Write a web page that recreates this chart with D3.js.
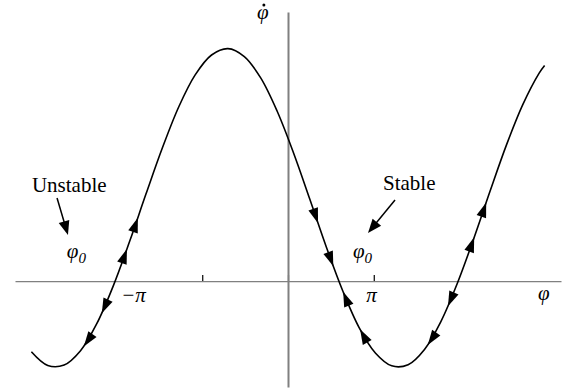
<!DOCTYPE html>
<html lang="en">
<head>
    <meta charset="UTF-8">
    <title>Phase portrait</title>
    <script src="https://cdn.jsdelivr.net/npm/d3@7"></script>
    <style>
        body { margin: 0; background: #fff; }
        text { font-family: "Liberation Serif", "Times New Roman", serif; fill: #000; }
        .math { font-style: italic; }
    </style>
</head>
<body>
<script>
    var w = 570;
    var h = 391;

    // curve samples (phi in rad, phi-dot in arbitrary units)
    var phiValues = [-4.7, -4.4, -4.1, -3.8, -3.5, -3.2, -2.9, -2.6, -2.3, -2.0, -1.7,
                     -1.4, -1.1, -0.8, -0.5, -0.2, 0.1, 0.4, 0.7, 1.0, 1.3, 1.6, 1.9,
                     2.2, 2.5, 2.8, 3.1, 3.4, 3.7, 4.0, 4.3, 4.6, 4.7];
    var phiDotValues = [-0.444, -0.530, -0.527, -0.437, -0.266, -0.030, 0.250, 0.548, 0.837,
                        1.095, 1.295, 1.420, 1.460, 1.410, 1.276, 1.068, 0.806, 0.514, 0.216,
                        -0.059, -0.290, -0.451, -0.532, -0.525, -0.429, -0.254, -0.015, 0.265,
                        0.564, 0.854, 1.108, 1.306, 1.354];

    // flow arrows on the curve: tip position and direction (+1 = towards larger phi)
    var arrowPhi = [-2.75, -2.95, -3.41, -3.74, 0.55, 0.83, 1.01, 1.32, 3.63, 3.41, 2.93, 2.56];
    var arrowDir = [1, 1, -1, -1, 1, 1, -1, -1, 1, 1, -1, -1];

    var tickValues = [-Math.PI / 2, 0, Math.PI / 2];
    var tickLabelText = ["\u2212\u03c0", "\u03c0"];
    var tickLabelPhi = [-2.83, 1.53];

    var noteText = ["Unstable", "Stable"];
    var notePhi = [-4.69, 1.74];
    var noteVal = [0.56, 0.572];
    // pointer arrows: from -> to
    var pointerFrom = [[-4.23, 0.522], [1.96, 0.509]];
    var pointerTo = [[-4.03, 0.29], [1.465, 0.302]];
    var phi0Phi = [-4.05, 1.19];
    var phi0Val = [0.145, 0.145];

    var x = d3.scaleLinear().domain([-5, 5]).range([15, 561]);
    var y = d3.scaleLinear().domain([-0.665, 1.69]).range([387, 12]);

    var svg = d3.select("body").append("svg")
        .attr("width", w)
        .attr("height", h);

    // x axis, ticks pointing up
    var xAxis = svg.append("g")
        .attr("transform", "translate(0," + y(0) + ")")
        .call(d3.axisTop(x).tickValues(tickValues).tickSize(6).tickSizeOuter(0).tickFormat(""));
    xAxis.select(".domain").attr("stroke", "#808080").attr("stroke-width", 1.4);
    xAxis.selectAll(".tick line").attr("stroke", "#000").attr("stroke-width", 1.2);

    // y axis
    var yAxis = svg.append("g")
        .attr("transform", "translate(" + x(0) + ",0)")
        .call(d3.axisRight(y).tickValues([]).tickSizeOuter(0));
    yAxis.select(".domain").attr("stroke", "#808080").attr("stroke-width", 2);

    // curve
    var pts = phiValues.map(function(d, i) { return [d, phiDotValues[i]]; });
    var line = d3.line()
        .x(function(d) { return x(d[0]); })
        .y(function(d) { return y(d[1]); })
        .curve(d3.curveCatmullRom);
    var curve = svg.append("path")
        .attr("d", line(pts))
        .attr("fill", "none")
        .attr("stroke", "#000")
        .attr("stroke-width", 1.6);

    // locate a point on the drawn curve by its x pixel
    var node = curve.node();
    var total = node.getTotalLength();
    function lengthAtX(px) {
        var lo = 0, hi = total;
        for (var k = 0; k < 40; k++) {
            var mid = (lo + hi) / 2;
            if (node.getPointAtLength(mid).x < px) lo = mid; else hi = mid;
        }
        return (lo + hi) / 2;
    }

    function headPoints(tip, ux, uy, len, half) {
        var bx = tip[0] - ux * len, by = tip[1] - uy * len;
        return [[tip[0], tip[1]], [bx - uy * half, by + ux * half], [bx + uy * half, by - ux * half]];
    }

    var heads = arrowPhi.map(function(p, i) {
        var L = lengthAtX(x(p));
        var a = node.getPointAtLength(Math.max(0, L - 2));
        var b = node.getPointAtLength(Math.min(total, L + 2));
        var t = node.getPointAtLength(L);
        var dx = (b.x - a.x) * arrowDir[i], dy = (b.y - a.y) * arrowDir[i];
        var n = Math.sqrt(dx * dx + dy * dy);
        return headPoints([t.x, t.y], dx / n, dy / n, 15, 5);
    });

    svg.selectAll("polygon.flow")
        .data(heads)
        .enter()
        .append("polygon")
        .attr("class", "flow")
        .attr("points", function(d) { return d.map(function(q) { return q.join(","); }).join(" "); })
        .attr("fill", "#000");

    // annotations
    svg.selectAll("text.note")
        .data(noteText)
        .enter()
        .append("text")
        .attr("class", "note")
        .attr("x", function(d, i) { return x(notePhi[i]); })
        .attr("y", function(d, i) { return y(noteVal[i]); })
        .attr("font-size", "21px")
        .text(function(d) { return d; });

    pointerFrom.forEach(function(f, i) {
        var x1 = x(f[0]), y1 = y(f[1]);
        var x2 = x(pointerTo[i][0]), y2 = y(pointerTo[i][1]);
        var dx = x2 - x1, dy = y2 - y1, n = Math.sqrt(dx * dx + dy * dy);
        var ux = dx / n, uy = dy / n;
        svg.append("line")
            .attr("x1", x1).attr("y1", y1)
            .attr("x2", x2 - ux * 8).attr("y2", y2 - uy * 8)
            .attr("stroke", "#000")
            .attr("stroke-width", 1.5);
        svg.append("polygon")
            .attr("points", headPoints([x2, y2], ux, uy, 14, 5.5).map(function(q) { return q.join(","); }).join(" "))
            .attr("fill", "#000");
    });

    var phi0 = svg.selectAll("text.phi0")
        .data(phi0Phi)
        .enter()
        .append("text")
        .attr("class", "phi0 math")
        .attr("x", function(d) { return x(d); })
        .attr("y", function(d, i) { return y(phi0Val[i]); })
        .attr("font-size", "21px");
    phi0.append("tspan").text("\u03c6");
    phi0.append("tspan").attr("dy", 5).attr("font-size", "15px").text("0");

    // tick labels
    svg.selectAll("text.tlab")
        .data(tickLabelText)
        .enter()
        .append("text")
        .attr("class", "tlab math")
        .attr("x", function(d, i) { return x(tickLabelPhi[i]); })
        .attr("y", y(0) + 21)
        .attr("text-anchor", "middle")
        .attr("font-size", "21px")
        .text(function(d) { return d; });

    // axis names
    svg.append("text")
        .attr("class", "math")
        .attr("x", x(4.58))
        .attr("y", y(-0.119))
        .attr("font-size", "21px")
        .text("\u03c6");
    var yName = svg.append("text")
        .attr("class", "math")
        .attr("x", x(-0.57))
        .attr("y", y(1.646))
        .attr("font-size", "21px")
        .text("\u03c6");
    var bb = yName.node().getBBox();
    svg.append("circle")
        .attr("cx", bb.x + bb.width / 2 + 1)
        .attr("cy", y(1.646) - 14)
        .attr("r", 1.5)
        .attr("fill", "#000");
</script>
</body>
</html>
